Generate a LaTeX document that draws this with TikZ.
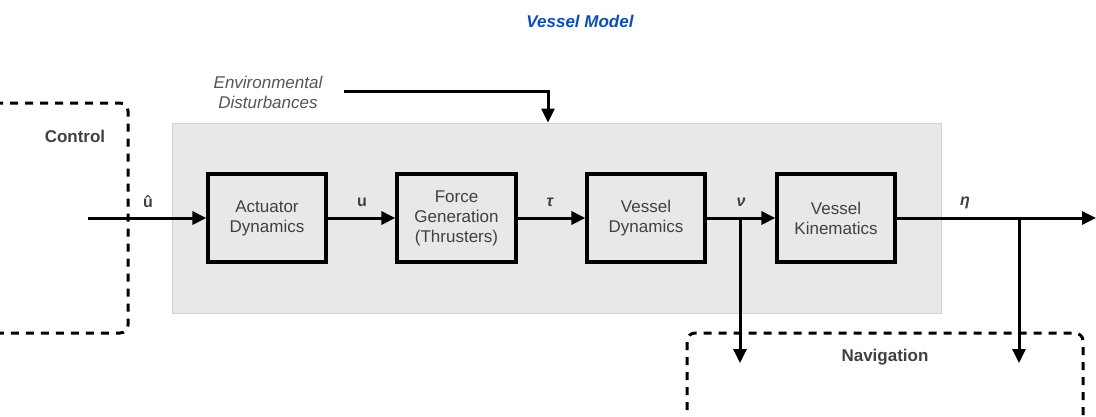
\documentclass[tikz,border=0pt]{standalone}
\usepackage{fontspec}
\setmainfont{Liberation Sans}
\usetikzlibrary{arrows.meta}
\definecolor{panel}{HTML}{E8E8E8}
\definecolor{panelline}{HTML}{D2D2D2}
\definecolor{txt}{HTML}{404040}
\definecolor{envtxt}{HTML}{555555}
\definecolor{titleblue}{HTML}{0B4DB5}
\tikzset{
  x=1pt, y=-1pt,
  blockbox/.style={draw=black, line width=3.2pt, fill=panel, text=txt,
    minimum width=118pt, minimum height=88pt, align=center, inner sep=0pt,
    font=\fontsize{17}{20}\selectfont},
  sig/.style={line width=3pt, -{Triangle[length=14pt,width=13pt]}},
  dashbox/.style={line width=3pt, dash pattern=on 8pt off 7pt, rounded corners=8pt},
  siglabel/.style={font=\fontsize{16}{18}\selectfont\bfseries, text=txt},
  regionlabel/.style={font=\fontsize{17}{20}\selectfont\bfseries, text=txt},
}
\begin{document}
\begin{tikzpicture}
\useasboundingbox (0,0) rectangle (1096,416);

% vessel model panel
\node[draw=panelline, line width=1pt, fill=panel, minimum width=769pt,
      minimum height=190pt, inner sep=0pt] (vm) at (556.5,218) {};

% title
\node[font=\fontsize{17}{20}\selectfont\bfseries\itshape, text=titleblue] (title) at (580,21) {Vessel Model};

% control and navigation regions
\draw[dashbox] (-20,103) -- (128,103) -- (128,333) -- (-20,333);
\node[regionlabel] (ctl) at (75,136) {Control};
\draw[dashbox] (687,440) -- (687,333) -- (1083,333) -- (1083,440);
\node[regionlabel] (nav) at (885,357) {Navigation};

% blocks
\node[blockbox] (act) at (267,218) {Actuator\\Dynamics};
\node[blockbox, minimum width=119pt] (fg) at (456.5,218) {Force\\Generation\\(Thrusters)};
\node[blockbox] (vd) at (646,218) {Vessel\\Dynamics};
\node[blockbox] (vk) at (836,218) {Vessel\\Kinematics};

% environmental disturbances input
\node[font=\fontsize{17}{20}\selectfont\itshape, text=envtxt, align=center] (env) at (268,92)
  {Environmental\\Disturbances};
\coordinate (envstart) at (344,91);
\coordinate (envturn) at (548,91);
\draw[sig] (envstart) -- (envturn) -- (envturn |- vm.north);

% signal path
\coordinate (uin) at (88,218);
\coordinate (nu) at (740,218);
\coordinate (nuend) at (740,363);
\coordinate (eta) at (1019,218);
\coordinate (etaend) at (1019,363);
\coordinate (out) at (1096,218);

\draw[sig] (uin) -- (act.west);
\draw[sig] (act.east) -- (fg.west);
\draw[sig] (fg.east) -- (vd.west);
\draw[sig] (vd.east) -- (vk.west);
\draw[sig] (nu) -- (nuend);
\draw[sig] (vk.east) -- (out);
\draw[sig] (eta) -- (etaend);

% signal labels
\node[siglabel] (lu0) at (148,202) {û};
\node[siglabel] (lu) at (362,202) {u};
\node[siglabel] (ltau) at (550,202) {\itshape τ};
\node[siglabel] (lnu) at (741,202) {\itshape ν};
\node[siglabel] (leta) at (965,203) {\itshape η};
\end{tikzpicture}
\end{document}
